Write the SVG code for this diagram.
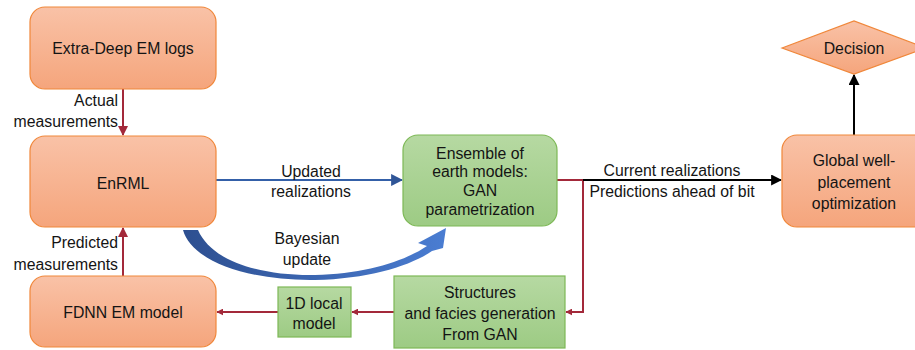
<svg xmlns="http://www.w3.org/2000/svg" width="915" height="350" viewBox="0 0 915 350">
<defs>
<linearGradient id="gOr" x1="0" y1="0" x2="0" y2="1"><stop offset="0" stop-color="#F9C2A7"/><stop offset="1" stop-color="#F5A57C"/></linearGradient>
<linearGradient id="gGr" x1="0" y1="0" x2="0" y2="1"><stop offset="0" stop-color="#B6D9A2"/><stop offset="1" stop-color="#9DCB84"/></linearGradient>
<linearGradient id="gBl" x1="0" y1="0" x2="1" y2="0"><stop offset="0" stop-color="#2D4F90"/><stop offset="1" stop-color="#4A7DD2"/></linearGradient>
<marker id="mRed" viewBox="0 0 10 10" refX="9" refY="5" markerWidth="5" markerHeight="5" orient="auto"><path d="M0,0 L10,5 L0,10 z" fill="#A3293A"/></marker>
<marker id="mRedS" viewBox="0 0 10 10" refX="9" refY="5" markerWidth="3.5" markerHeight="3.5" orient="auto"><path d="M0,0 L10,5 L0,10 z" fill="#A3293A"/></marker>
<marker id="mBlue" viewBox="0 0 10 10" refX="9" refY="5" markerWidth="5.5" markerHeight="5.5" orient="auto"><path d="M0,0 L10,5 L0,10 z" fill="#2F5597"/></marker>
<marker id="mBlk" viewBox="0 0 10 10" refX="9" refY="5" markerWidth="5.5" markerHeight="5.5" orient="auto"><path d="M0,0 L10,5 L0,10 z" fill="#000"/></marker>
</defs>
<style>
text{font-family:"Liberation Sans",Arial,sans-serif;font-size:15.8px;fill:#141414;text-anchor:middle;dominant-baseline:central}
.or{fill:url(#gOr);stroke:#F0873A;stroke-width:1.2}
.gr{fill:url(#gGr);stroke:#7DB856;stroke-width:1.2}
.red{stroke:#A3293A;stroke-width:2;fill:none}
.lbr{text-anchor:end}
</style>
<g id="connectors">
<line class="red" x1="123" y1="89" x2="123" y2="135" marker-end="url(#mRed)"/>
<line class="red" x1="123" y1="276" x2="123" y2="228" marker-end="url(#mRed)"/>
<line x1="216" y1="180" x2="402" y2="180" stroke="#3460A8" stroke-width="2.2" marker-end="url(#mBlue)"/>
<polyline class="red" points="557,180 583,180 583,312 566,312" marker-end="url(#mRedS)"/>
<line x1="583" y1="180" x2="781" y2="180" stroke="#000" stroke-width="2" marker-end="url(#mBlk)"/>
<line class="red" x1="394" y1="312" x2="352" y2="312" marker-end="url(#mRedS)"/>
<line class="red" x1="278" y1="312" x2="217" y2="312" marker-end="url(#mRedS)"/>
<line x1="854" y1="135" x2="854" y2="75" stroke="#000" stroke-width="2" marker-end="url(#mBlk)"/>
<path d="M183,230 C192,262 250,281 315,280 C370,279 412,265 432,251 L443,248 L446,228 L418,243 L427,246 C405,261 365,274 315,275 C262,276 212,262 198,230 Z" fill="url(#gBl)"/>
<text x="118" y="100" class="lbr">Actual</text>
<text x="118" y="121" class="lbr">measurements</text>
<text x="118" y="242" class="lbr">Predicted</text>
<text x="118" y="264" class="lbr">measurements</text>
<text x="311" y="171">Updated</text>
<text x="311" y="191">realizations</text>
<text x="307" y="238">Bayesian</text>
<text x="307" y="259">update</text>
<text x="672" y="170">Current realizations</text>
<text x="672" y="191">Predictions ahead of bit</text>
</g>
<g id="extradeep"><rect class="or" x="30" y="7" width="186" height="82" rx="15"/><text x="123" y="48">Extra-Deep EM logs</text></g>
<g id="enrml"><rect class="or" x="30" y="136" width="186" height="91" rx="15"/><text x="123" y="183">EnRML</text></g>
<g id="fdnn"><rect class="or" x="30" y="276" width="186" height="71" rx="15"/><text x="123" y="312">FDNN EM model</text></g>
<g id="ensemble"><rect class="gr" x="403" y="135" width="154" height="91" rx="15"/><text x="480" y="153">Ensemble of</text><text x="480" y="171.7">earth models:</text><text x="480" y="190.4">GAN</text><text x="480" y="209">parametrization</text></g>
<g id="structures"><rect class="gr" x="394" y="276" width="171" height="72"/><text x="480" y="292">Structures</text><text x="480" y="313">and facies generation</text><text x="480" y="334">From GAN</text></g>
<g id="local1d"><rect class="gr" x="278" y="287" width="73" height="50"/><text x="314" y="303">1D local</text><text x="314" y="323">model</text></g>
<g id="global"><rect class="or" x="782" y="135" width="150" height="92" rx="15"/><text x="854" y="160">Global well-</text><text x="854" y="182">placement</text><text x="854" y="203">optimization</text></g>
<g id="decision"><polygon class="or" points="782,48 854,21 926,48 854,74"/><text x="854" y="48">Decision</text></g>
</svg>
